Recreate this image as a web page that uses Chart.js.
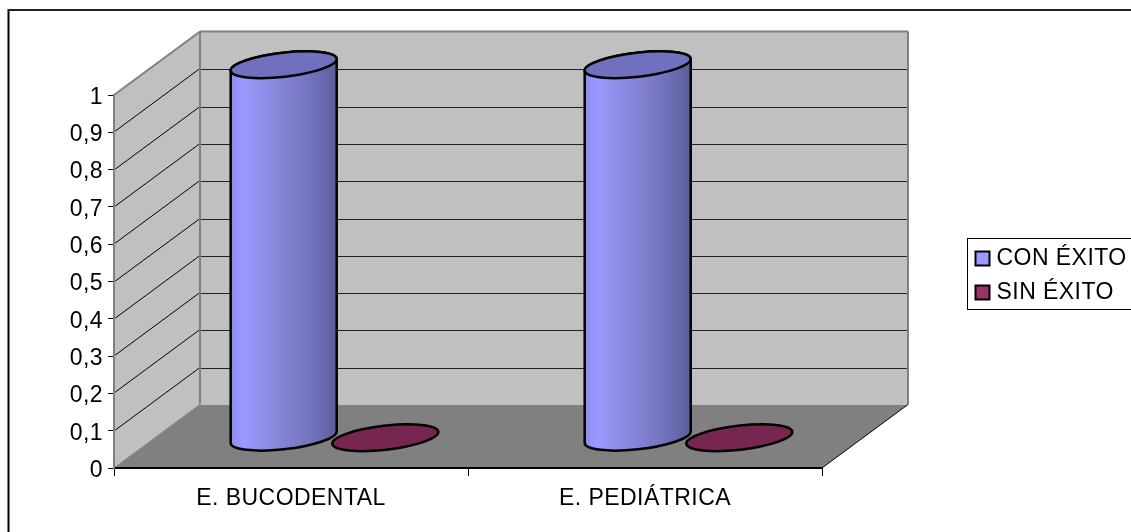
<!DOCTYPE html>
<html><head><meta charset="utf-8">
<style>html,body{margin:0;padding:0;background:#fff}#w{width:1131px;height:532px}canvas{display:block}</style>
<script src="https://cdn.jsdelivr.net/npm/chart.js@4"></script></head>
<body><div id="w"><canvas id="c" width="1131" height="532"></canvas></div>
<script>
const categories = ['E. BUCODENTAL', 'E. PEDIÁTRICA'];
const conExito = [1, 1];
const sinExito = [0, 0];
const seriesNames = ['CON ÉXITO', 'SIN ÉXITO'];
const legendColors = ['#9999FF', '#993366'];

const DX = 86, DY = 63.5, RY = 12, TILT = -6.5 * Math.PI / 180;
const FONT = 'Liberation Sans, Arial, sans-serif';
const FS = 23;

function poly(ctx, pts, fill) {
  ctx.beginPath();
  pts.forEach((p, i) => i ? ctx.lineTo(p[0], p[1]) : ctx.moveTo(p[0], p[1]));
  ctx.closePath();
  ctx.fillStyle = fill; ctx.fill();
}
function seg(ctx, a, b, c, d, col, lw) {
  ctx.beginPath(); ctx.moveTo(a, b); ctx.lineTo(c, d);
  ctx.strokeStyle = col; ctx.lineWidth = lw; ctx.stroke();
}
function cylinder(ctx, el, col) {
  const cx = el.x + DX / 2 + 0.5, rx = el.width / 2;
  const top = el.y - DY / 2 + 1.5, bot = el.base - DY / 2 + 1.5;
  ctx.lineJoin = 'round';
  ctx.lineWidth = 2.5;
  ctx.strokeStyle = '#000';
  if (Math.abs(top - bot) > 1) {
    const t0 = Math.atan((RY / rx) * Math.tan(-TILT));
    const g = ctx.createLinearGradient(cx - rx, 0, cx + rx, 0);
    g.addColorStop(0, '#8C8CF0'); g.addColorStop(0.12, '#9999FF');
    g.addColorStop(0.45, '#8787DA'); g.addColorStop(0.8, '#6F6FB8');
    g.addColorStop(1, '#5C5C9A');
    ctx.beginPath();
    ctx.ellipse(cx, bot, rx, RY, TILT, t0, t0 + Math.PI);
    ctx.ellipse(cx, top, rx, RY, TILT, t0 + Math.PI, t0 + 2 * Math.PI);
    ctx.closePath();
    ctx.fillStyle = g; ctx.fill();
    ctx.stroke();
  }
  ctx.beginPath();
  ctx.ellipse(cx, top, rx, RY, TILT, 0, 2 * Math.PI);
  ctx.fillStyle = col; ctx.fill();
  ctx.stroke();
}

const scene = {
  id: 'scene',
  afterLayout(chart) {
    const l = chart.legend;
    const w = l.width, h = l.height;
    l.left = 969; l.top = 236; l.right = l.left + w; l.bottom = l.top + h;
  },
  beforeDraw(chart) {
    const ctx = chart.ctx, a = chart.chartArea, y = chart.scales.y;
    ctx.letterSpacing = '0.45px';
    ctx.save();
    ctx.fillStyle = '#fff'; ctx.fillRect(0, 0, chart.width, chart.height);
    seg(ctx, 8.5, 9, 8.5, 532, '#000', 2);
    seg(ctx, 8, 10, 1131, 10, '#222', 2);
    ctx.strokeStyle = '#000'; ctx.lineWidth = 1;
    ctx.strokeRect(967.5, 238.5, 180, 71);

    const L = a.left, R = a.right, T = a.top, B = a.bottom;
    poly(ctx, [[L, B], [R, B], [R + DX, B - DY], [L + DX, B - DY]], '#808080');
    poly(ctx, [[L, B], [L, T], [L + DX, T - DY], [L + DX, B - DY]], '#C0C0C0');
    poly(ctx, [[L + DX, T - DY], [R + DX, T - DY], [R + DX, B - DY], [L + DX, B - DY]], '#C0C0C0');
    y.ticks.forEach(t => {
      if (t.value === 0 || t.value === 1) return;
      const py = Math.round(y.getPixelForValue(t.value));
      seg(ctx, L, py, L + DX, py - DY, '#000', 1);
      const by = Math.round(py - DY) + 0.5;
      seg(ctx, L + DX, by, R + DX, by, '#222', 1);
    });
    seg(ctx, L, T, L + DX, T - DY, '#808080', 2);
    seg(ctx, L + DX, T - DY, R + DX, T - DY, '#808080', 2);
    seg(ctx, L + DX, T - DY, L + DX, B - DY, '#808080', 2);
    seg(ctx, R + DX, T - DY, R + DX, B - DY, '#808080', 2);
    seg(ctx, L, B, L + DX, B - DY, '#808080', 1);
    seg(ctx, R, B, R + DX, B - DY, '#000', 1);
    ctx.restore();
  },
  beforeDatasetDraw() { return false; },
  afterDatasetsDraw(chart) {
    const ctx = chart.ctx;
    ctx.save();
    chart.getDatasetMeta(0).data.forEach(el => cylinder(ctx, el, '#7070BF'));
    chart.getDatasetMeta(1).data.forEach(el => cylinder(ctx, el, '#772650'));
    ctx.restore();
  }
};

new Chart(document.getElementById('c'), {
  type: 'bar',
  plugins: [scene],
  data: {
    labels: categories,
    datasets: [
      { label: seriesNames[0], data: conExito, backgroundColor: legendColors[0], borderColor: '#000', borderWidth: 2, categoryPercentage: 0.574, barPercentage: 1.05 },
      { label: seriesNames[1], data: sinExito, backgroundColor: legendColors[1], borderColor: '#000', borderWidth: 2, categoryPercentage: 0.574, barPercentage: 1.05 }
    ]
  },
  options: {
    responsive: false,
    animation: false,
    events: [],
    layout: { padding: { left: 0, top: 95, right: 309, bottom: 0 } },
    plugins: {
      title: { display: false },
      tooltip: { enabled: false },
      legend: {
        display: true,
        position: 'chartArea',
        align: 'start',
        labels: {
          usePointStyle: true, pointStyle: 'rect',
          boxWidth: 5, boxHeight: 14, padding: 11,
          color: '#000',
          font: { family: FONT, size: FS, lineHeight: 1.15 }
        }
      }
    },
    scales: {
      x: {
        afterFit(s) { s.height = 64; },
        grid: { display: true, drawOnChartArea: false, drawTicks: true, offset: true, color: '#000', tickLength: 8, tickWidth: 1 },
        border: { display: true, color: '#000', width: 2 },
        ticks: { color: '#000', padding: 9, maxRotation: 0, font: { family: FONT, size: FS } }
      },
      y: {
        min: 0, max: 1,
        afterFit(s) { s.width = 114; },
        grid: { display: true, drawOnChartArea: false, drawTicks: true, color: '#000', tickLength: 6, tickWidth: 1 },
        border: { display: true, color: '#808080', width: 2 },
        ticks: {
          stepSize: 0.1, color: '#000', padding: 5, autoSkip: false, labelOffset: 2.5,
          font: { family: FONT, size: FS },
          callback: v => String(Math.round(v * 10) / 10).replace('.', ',')
        }
      }
    }
  }
});
</script></body></html>
